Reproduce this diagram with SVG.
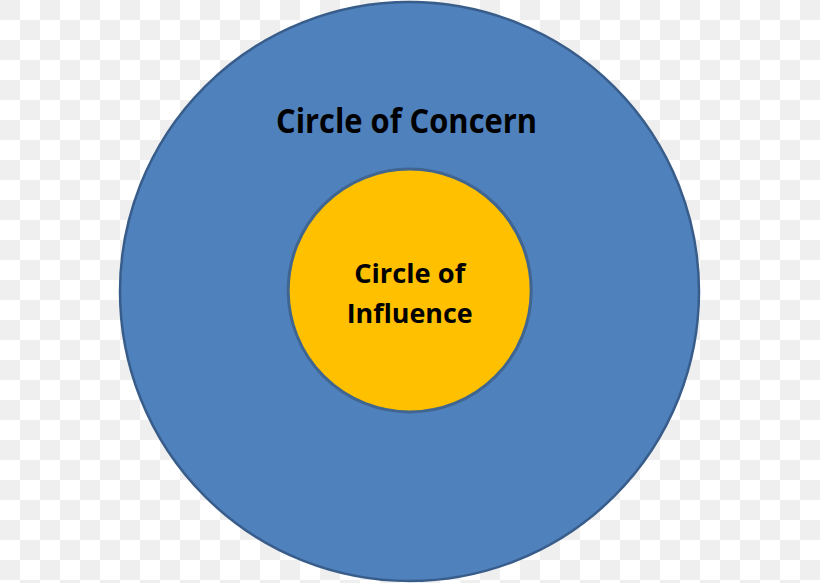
<svg xmlns="http://www.w3.org/2000/svg" width="820" height="583" viewBox="0 0 820 583">
<defs>
<pattern id="checker" x="0" y="0" width="40" height="40" patternUnits="userSpaceOnUse">
<rect width="40" height="40" fill="#ffffff"/>
<rect x="0" y="0" width="20" height="20" fill="#efefef"/>
<rect x="20" y="20" width="20" height="20" fill="#efefef"/>
</pattern>
</defs>
<style>
.lbl { font-family: "Open Sans", "Liberation Sans", sans-serif; font-weight: bold; fill: #000000; text-anchor: middle; }
</style>
<rect width="820" height="583" fill="url(#checker)"/>
<g id="concern">
<circle cx="409.5" cy="291.5" r="289.5" fill="#4f81bd" stroke="#385d8a" stroke-width="2.5"/>
<text class="lbl" x="406.5" y="133" font-size="34" textLength="261" lengthAdjust="spacingAndGlyphs">Circle of Concern</text>
</g>
<g id="influence">
<circle cx="409.7" cy="290.5" r="121.5" fill="#ffc000" stroke="#3f6590" stroke-width="3"/>
<text class="lbl" x="409.7" y="283" font-size="27" textLength="111" lengthAdjust="spacingAndGlyphs">Circle of</text>
<text class="lbl" x="409.7" y="323" font-size="27" textLength="126" lengthAdjust="spacingAndGlyphs">Influence</text>
</g>
<g id="connectors"/>
</svg>
